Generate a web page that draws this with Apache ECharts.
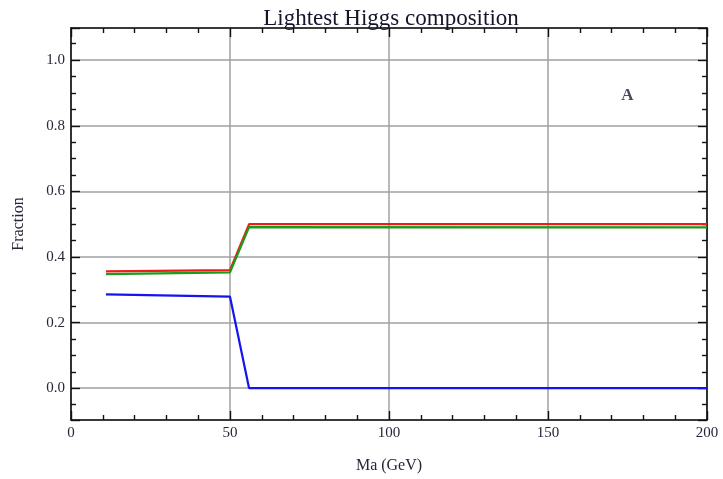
<!DOCTYPE html>
<html>
<head>
<meta charset="utf-8">
<title>Lightest Higgs composition</title>
<script src="https://cdn.jsdelivr.net/npm/echarts@6/dist/echarts.min.js"></script>
<style>
  html, body { margin: 0; padding: 0; background: #fff; }
  #chart { width: 723px; height: 479px; }
</style>
</head>
<body>
<div id="chart"></div>
<script>
// Ma (GeV) sample points and the fraction of each component
const massGeV = [11, 50, 56, 200];
const redFraction = [0.356, 0.360, 0.500, 0.500];
const greenFraction = [0.348, 0.353, 0.491, 0.490];
const blueFraction = [0.286, 0.279, 0.0, 0.0];

// panel tag placed in data coordinates
const panelTag = 'A';
const panelTagAt = [175, 0.893];

const titleText = 'Lightest Higgs composition';
const xName = 'Ma (GeV)';
const yName = 'Fraction';

const serif = '"Liberation Serif", "DejaVu Serif", serif';
const textColor = '#26263a';
const frameColor = '#111';
const gridColor = '#a0a0a0';

function pairs(xs, ys) {
  return xs.map((x, i) => [x, ys[i]]);
}

function yLabel(v) {
  const k = Math.round(v / 0.2);
  if (Math.abs(v - k * 0.2) > 1e-6) return '';
  return v.toFixed(1);
}

const xCommon = {
  type: 'value', min: 0, max: 200, interval: 50,
  axisLine: { onZero: false, lineStyle: { color: frameColor, width: 1.6 } },
  axisTick: { inside: true, length: 9, lineStyle: { color: frameColor, width: 1.4 } },
  minorTick: { show: true, splitNumber: 5, length: 5, lineStyle: { color: frameColor, width: 1.4 } }
};
const yCommon = {
  type: 'value', min: -0.097, max: 1.098, splitNumber: 6,
  axisLine: { onZero: false, lineStyle: { color: frameColor, width: 1.6 } },
  axisTick: { inside: true, length: 9, lineStyle: { color: frameColor, width: 1.4 } },
  minorTick: { show: true, splitNumber: 4, length: 5, lineStyle: { color: frameColor, width: 1.4 } }
};

const chart = echarts.init(document.getElementById('chart'), null, { renderer: 'canvas' });
chart.setOption({
  animation: false,
  backgroundColor: '#fff',
  title: {
    text: titleText, left: 386, top: 2, textAlign: 'center',
    textStyle: { fontFamily: serif, fontSize: 23, fontWeight: 'normal', color: '#14142a' }
  },
  grid: { left: 71, right: 16, top: 28, bottom: 58 },
  xAxis: [
    Object.assign({}, xCommon, {
      position: 'bottom',
      name: xName, nameLocation: 'middle', nameGap: 38,
      nameTextStyle: { fontFamily: serif, fontSize: 16, color: textColor },
      axisLabel: { fontFamily: serif, fontSize: 15, color: textColor, margin: 6 },
      splitLine: { show: true, lineStyle: { color: gridColor, width: 1.5 } }
    }),
    Object.assign({}, xCommon, {
      position: 'top',
      axisLabel: { show: false },
      splitLine: { show: false }
    })
  ],
  yAxis: [
    Object.assign({}, yCommon, {
      position: 'left',
      name: yName, nameLocation: 'middle', nameGap: 44,
      nameTextStyle: { fontFamily: serif, fontSize: 16, color: textColor },
      axisLabel: { fontFamily: serif, fontSize: 15, color: textColor, margin: 6, formatter: yLabel },
      splitLine: { show: true, lineStyle: { color: gridColor, width: 1.5 } }
    }),
    Object.assign({}, yCommon, {
      position: 'right',
      axisLabel: { show: false },
      splitLine: { show: false }
    })
  ],
  series: [
    {
      type: 'line', data: pairs(massGeV, redFraction), showSymbol: false,
      lineStyle: { color: '#ee1c1c', width: 2.2 }, z: 3
    },
    {
      type: 'line', data: pairs(massGeV, greenFraction), showSymbol: false,
      lineStyle: { color: '#1c9a1c', width: 2.2 }, z: 3
    },
    {
      type: 'line', data: pairs(massGeV, blueFraction), showSymbol: false,
      lineStyle: { color: '#1414ee', width: 2.2 }, z: 3
    },
    {
      type: 'scatter', data: [panelTagAt], symbolSize: 0, silent: true,
      label: {
        show: true, position: 'inside', formatter: panelTag,
        fontFamily: serif, fontSize: 17, fontWeight: 'bold', color: '#1a1a2e'
      }
    }
  ]
});
</script>
</body>
</html>
